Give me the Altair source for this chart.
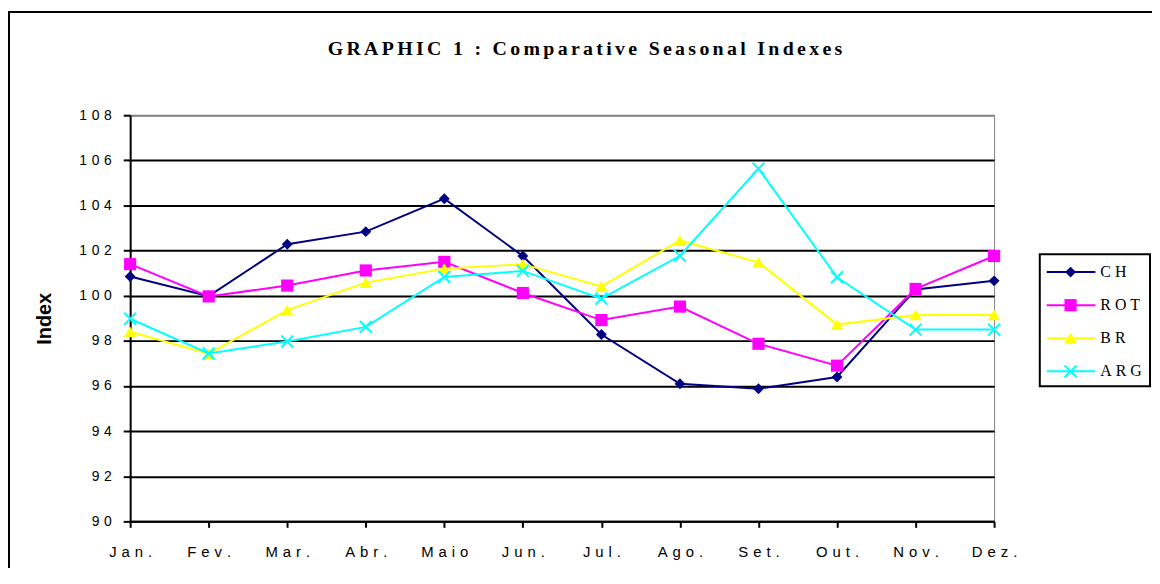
import altair as alt
import pandas as pd

# ---- data ----
months = ["Jan.", "Fev.", "Mar.", "Abr.", "Maio", "Jun.", "Jul.", "Ago.", "Set.", "Out.", "Nov.", "Dez."]
series = ["CH", "ROT", "BR", "ARG"]
ch = [100.85, 99.98, 102.28, 102.84, 104.30, 101.76, 98.28, 96.10, 95.88, 96.40, 100.28, 100.66]
rot = [101.40, 99.97, 100.45, 101.12, 101.50, 100.12, 98.92, 99.52, 97.87, 96.90, 100.30, 101.76]
br = [98.40, 97.43, 99.36, 100.58, 101.20, 101.40, 100.41, 102.45, 101.48, 98.72, 99.15, 99.15]
arg = [98.98, 97.44, 97.97, 98.62, 100.83, 101.10, 99.87, 101.77, 105.63, 100.82, 98.50, 98.50]
y_ticks = [90, 92, 94, 96, 98, 100, 102, 104, 106, 108]
title_text = "GRAPHIC 1 : Comparative Seasonal Indexes"
y_title = "Index"

colors = ["#000080", "#FF00FF", "#FFFF00", "#00FFFF"]
values = {"CH": ch, "ROT": rot, "BR": br, "ARG": arg}

rows = []
for s in series:
    for m, v in zip(months, values[s]):
        rows.append({"series": s, "month": m, "value": v})
df = pd.DataFrame(rows)

SP6 = "\u2006"
SP3 = "\u2004"
SP4 = "\u2005"

W, H = 870, 409
PAD_L, PAD_T = 123, 106
TOTAL_W, TOTAL_H = 1152, 560

color_scale = alt.Scale(domain=series, range=colors)

x_enc = alt.X(
    "month:O",
    sort=months,
    scale=alt.Scale(type="point", padding=0, domain=months),
    axis=alt.Axis(
        title=None,
        labelAngle=0,
        labelFont="Liberation Sans",
        labelFontSize=15,
        labelColor="black",
        labelPadding=17,
        labelBaseline="top",
        labelExpr=f"join(split(datum.label, ''), '{SP3}')",
        domainColor="black",
        domainWidth=2,
        tickColor="black",
        tickWidth=2,
        tickSize=6,
        grid=False,
    ),
)

y_enc = alt.Y(
    "value:Q",
    scale=alt.Scale(domain=[90, 108], nice=False, zero=False),
    axis=alt.Axis(
        values=y_ticks,
        format="d",
        title=y_title,
        titleFont="Liberation Sans",
        titleFontSize=20,
        titleFontWeight="bold",
        titleColor="black",
        titleAngle=270,
        titleX=-86,
        titleY=H / 2,
        titleAlign="center",
        titleBaseline="middle",
        labelFont="Liberation Sans",
        labelFontSize=14,
        labelColor="black",
        labelPadding=12,
        labelBaseline="middle",
        labelExpr=f"join(split(datum.label, ''), '{SP3}')",
        domainColor="black",
        domainWidth=2,
        tickColor="black",
        tickWidth=2,
        tickSize=7,
        grid=True,
        gridColor={"condition": {"test": "datum.value == 108", "value": "#808080"}, "value": "black"},
        gridWidth=2,
    ),
)

one = pd.DataFrame({"k": [0]})

frame = alt.Chart(one).mark_rect(filled=False, stroke="black", strokeWidth=2).encode(
    x=alt.value(-122), x2=alt.value(1040), y=alt.value(-104), y2=alt.value(470)
)

title = alt.Chart(pd.DataFrame({"t": [title_text]})).transform_calculate(
    tt=f"join(split(datum.t, ''), '{SP6}')"
).mark_text(
    font="Liberation Serif", fontSize=20, fontWeight="bold", color="black",
    align="center", baseline="alphabetic"
).encode(x=alt.value(458), y=alt.value(-61), text="tt:N")

layers = [frame, title]

marker = {
    "CH": dict(shape="diamond", size=120, filled=True),
    "ROT": dict(shape="square", size=150, filled=True),
    "BR": dict(shape="triangle-up", size=160, filled=True),
    "ARG": dict(shape="M-1,-1L1,1M-1,1L1,-1", size=144, filled=False, strokeWidth=2),
}

for s in series:
    d = df[df.series == s]
    ln = alt.Chart(d).mark_line(strokeWidth=2).encode(
        x=x_enc, y=y_enc,
        color=alt.Color("series:N", scale=color_scale, legend=None),
    )
    pt = alt.Chart(d).mark_point(opacity=1, **marker[s]).encode(
        x=x_enc, y=y_enc,
        color=alt.Color("series:N", scale=color_scale, legend=None),
    )
    layers += [ln, pt]

# ---- legend (drawn by hand to show line + marker) ----
legend_box = alt.Chart(one).mark_rect(filled=False, stroke="black", strokeWidth=2).encode(
    x=alt.value(916), x2=alt.value(1027), y=alt.value(140), y2=alt.value(273)
)
layers.append(legend_box)
for i, s in enumerate(series):
    ly = 158 + 33.3 * i
    ld = pd.DataFrame({"series": [s]})
    lrule = alt.Chart(ld).mark_rule(strokeWidth=2).encode(
        x=alt.value(923), x2=alt.value(972), y=alt.value(ly),
        color=alt.Color("series:N", scale=color_scale, legend=None),
    )
    lpt = alt.Chart(ld).mark_point(opacity=1, **marker[s]).encode(
        x=alt.value(947), y=alt.value(ly),
        color=alt.Color("series:N", scale=color_scale, legend=None),
    )
    ltxt = alt.Chart(ld).transform_calculate(
        lab=f"join(split(datum.series, ''), '{SP4}')"
    ).mark_text(
        font="Liberation Serif", fontSize=16, color="black", align="left", baseline="middle"
    ).encode(x=alt.value(977), y=alt.value(ly), text="lab:N")
    layers += [lrule, lpt, ltxt]

chart = alt.layer(*layers).properties(
    width=W,
    height=H,
    padding={"left": PAD_L, "top": PAD_T, "right": TOTAL_W - PAD_L - W, "bottom": TOTAL_H - PAD_T - H},
    autosize=alt.AutoSizeParams(type="none"),
    background="white",
).configure_view(stroke="#808080", strokeWidth=1)

chart.save("out.html", embed_options={"renderer": "svg", "actions": False})
